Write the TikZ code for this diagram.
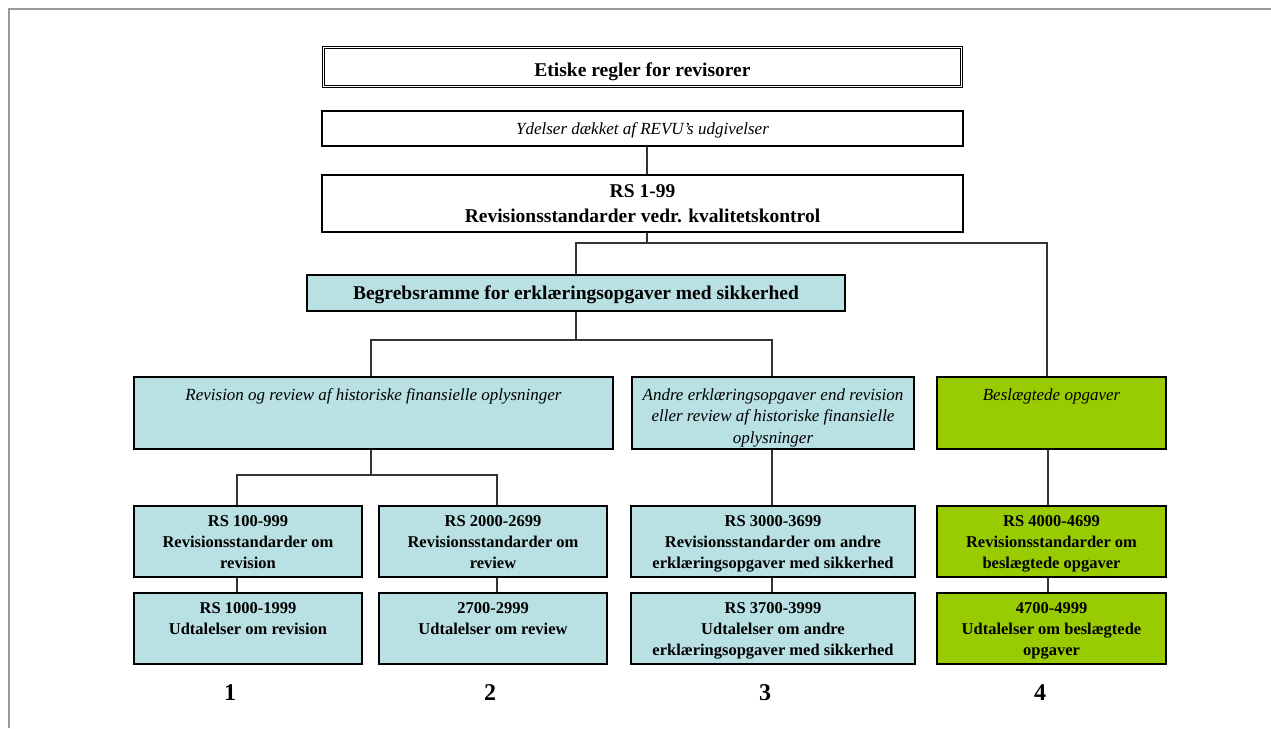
\documentclass[tikz,border=0pt]{standalone}
\usepackage{fontspec}
\setmainfont{Liberation Serif}
\usetikzlibrary{calc}
\definecolor{lblue}{RGB}{185,224,227}
\definecolor{lgreen}{RGB}{153,204,0}
\definecolor{conn}{RGB}{51,51,51}
\definecolor{frame}{RGB}{153,153,153}
\newcommand\fbig{\fontsize{19.5}{25}\selectfont\bfseries}
\newcommand\fsmall{\fontsize{16.5}{21}\selectfont\bfseries}
\newcommand\fital{\fontsize{17}{21.5}\selectfont\itshape}
\newcommand\fnum{\fontsize{24}{28}\selectfont\bfseries}
\newcommand\mydrop[2]{\raisebox{-#1}[\height][\depth]{#2}}
\begin{document}
\begin{tikzpicture}[x=1pt,y=-1pt,
  box/.style={draw=black, line width=1.2pt, inner sep=0pt},
  bluebox/.style={box, fill=lblue},
  greenbox/.style={box, fill=lgreen},
  txt/.style={anchor=north, align=center, inner sep=0pt},
  conline/.style={draw=conn, line width=1.2pt},
  numlbl/.style={inner sep=0pt, font=\fnum}]
\useasboundingbox (0,0) rectangle (1271,728);
\draw[frame, line width=2pt] (8.5,728) -- (8.5,8.5) -- (1271,8.5);

% top boxes
\node[box, double, double distance=1.6pt, line width=1pt, minimum width=638pt, minimum height=39pt, font=\fbig] (etiske) at (642.5,67) {\mydrop{4.5pt}{Etiske regler for revisorer}};
\node[box, minimum width=641pt, minimum height=35pt, font=\fital] (ydelser) at (642.5,128.5) {\mydrop{2pt}{Ydelser dækket af REVU’s udgivelser}};
\node[box, minimum width=641pt, minimum height=57pt, align=center, font=\fbig] (rs199) at (642.5,203.5) {RS 1-99\\Revisionsstandarder vedr. kvalitetskontrol};
\node[bluebox, line width=2.4pt, minimum width=538pt, minimum height=36pt, font=\fbig] (begreb) at (576,293) {\mydrop{2pt}{Begrebsramme for erklæringsopgaver med sikkerhed}};

% second level
\node[bluebox, minimum width=479pt, minimum height=72pt] (revhist) at (373.5,413) {};
\node[txt, font=\fital] (trevhist) at ($(revhist.north)+(0,12)$) {Revision og review af historiske finansielle oplysninger};
\node[bluebox, minimum width=282pt, minimum height=72pt] (andre) at (773,413) {};
\node[txt, font=\fital] (tandre) at ($(andre.north)+(0,12)$) {Andre erklæringsopgaver end revision\\eller review af historiske finansielle\\oplysninger};
\node[greenbox, minimum width=229pt, minimum height=72pt] (besl) at (1051.5,413) {};
\node[txt, font=\fital] (tbesl) at ($(besl.north)+(0,12)$) {Beslægtede opgaver};

% third level
\node[bluebox, minimum width=228pt, minimum height=71pt] (r1) at (248,541.5) {};
\node[txt, font=\fsmall] (tr1) at ($(r1.north)+(0,10)$) {RS 100-999\\Revisionsstandarder om\\revision};
\node[bluebox, minimum width=228pt, minimum height=71pt] (r2) at (493,541.5) {};
\node[txt, font=\fsmall] (tr2) at ($(r2.north)+(0,10)$) {RS 2000-2699\\Revisionsstandarder om\\review};
\node[bluebox, minimum width=284pt, minimum height=71pt] (r3) at (773,541.5) {};
\node[txt, font=\fsmall] (tr3) at ($(r3.north)+(0,10)$) {RS 3000-3699\\Revisionsstandarder om andre\\erklæringsopgaver med sikkerhed};
\node[greenbox, minimum width=229pt, minimum height=71pt] (r4) at (1051.5,541.5) {};
\node[txt, font=\fsmall] (tr4) at ($(r4.north)+(0,10)$) {RS 4000-4699\\Revisionsstandarder om\\beslægtede opgaver};

% fourth level
\node[bluebox, minimum width=228pt, minimum height=71pt] (u1) at (248,628.5) {};
\node[txt, font=\fsmall] (tu1) at ($(u1.north)+(0,10)$) {RS 1000-1999\\Udtalelser om revision};
\node[bluebox, minimum width=228pt, minimum height=71pt] (u2) at (493,628.5) {};
\node[txt, font=\fsmall] (tu2) at ($(u2.north)+(0,10)$) {2700-2999\\Udtalelser om review};
\node[bluebox, minimum width=284pt, minimum height=71pt] (u3) at (773,628.5) {};
\node[txt, font=\fsmall] (tu3) at ($(u3.north)+(0,10)$) {RS 3700-3999\\Udtalelser om andre\\erklæringsopgaver med sikkerhed};
\node[greenbox, minimum width=229pt, minimum height=71pt] (u4) at (1051.5,628.5) {};
\node[txt, font=\fsmall] (tu4) at ($(u4.north)+(0,10)$) {4700-4999\\Udtalelser om beslægtede\\opgaver};

% numbers
\node[numlbl] (n1) at (230,693) {1};
\node[numlbl] (n2) at (490,693) {2};
\node[numlbl] (n3) at (765,693) {3};
\node[numlbl] (n4) at (1040,693) {4};

% junctions
\coordinate (j1) at (647,243);
\coordinate (j1l) at (576,243);
\coordinate (j1r) at (1047,243);
\coordinate (j2) at (576,340);
\coordinate (j2l) at (371,340);
\coordinate (j2r) at (772,340);
\coordinate (j3) at (371,475);
\coordinate (j3l) at (237,475);
\coordinate (j3r) at (497,475);
\coordinate (c4) at (1048,449);

% connectors
\draw[conline] (ydelser.south -| j1) -- (rs199.north -| j1);
\draw[conline] (rs199.south -| j1) -- (j1);
\draw[conline] (begreb.north -| j1l) -- (j1l) -- (j1r) -- (besl.north -| j1r);
\draw[conline] (begreb.south -| j2) -- (j2);
\draw[conline] (revhist.north -| j2l) -- (j2l) -- (j2r) -- (andre.north -| j2r);
\draw[conline] (revhist.south -| j3) -- (j3);
\draw[conline] (r1.north -| j3l) -- (j3l) -- (j3r) -- (r2.north -| j3r);
\draw[conline] (andre.south -| j2r) -- (r3.north -| j2r);
\draw[conline] (besl.south -| c4) -- (r4.north -| c4);
\draw[conline] (r1.south -| j3l) -- (u1.north -| j3l);
\draw[conline] (r2.south -| j3r) -- (u2.north -| j3r);
\draw[conline] (r3.south -| j2r) -- (u3.north -| j2r);
\draw[conline] (r4.south -| c4) -- (u4.north -| c4);
\end{tikzpicture}
\end{document}
